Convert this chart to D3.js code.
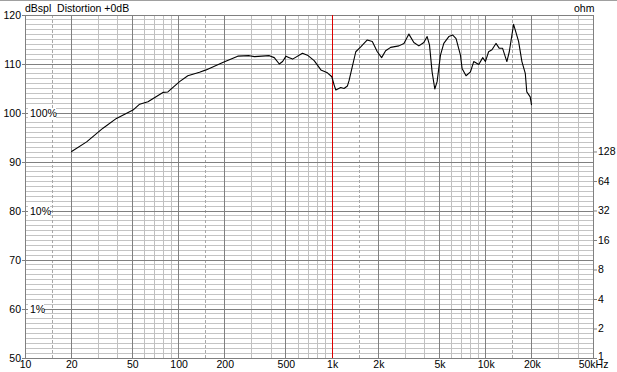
<!DOCTYPE html>
<html lang="en">
	<head>
		<meta charset="utf-8">
		<title>Frequency response</title>
		<script type="text/javascript" src="https://cdn.jsdelivr.net/npm/d3@7/dist/d3.min.js"></script>
		<style type="text/css">
			body {
				margin: 0;
				background: white;
				}
			text {
				font-family: "Liberation Sans", Arial, sans-serif;
				font-size: 10.5px;
				fill: #000;
				}
		</style>
	</head>
	<body>
		<script type="text/javascript">

			//Width and height
			var w = 617;
			var h = 372;

			// frequency response (Hz, dB SPL)
			var freqs = [20, 25.2, 32.2, 39.4, 50.5, 55.8, 63.2, 79.1, 85.2, 101.5, 114.9, 136.9,
				151, 194, 243, 289, 312, 390, 420, 453, 476, 501, 526, 553, 641, 691, 764, 845, 932,
				996, 1031, 1057, 1138, 1196, 1257, 1289, 1426, 1536, 1695, 1827, 1969, 2101, 2231,
				2405, 2722, 2936, 3162, 3407, 3672, 3956, 4157, 4306, 4478, 4664, 4828, 5077, 5337,
				5754, 6108, 6416, 6851, 7020, 7450, 7960, 8360, 8790, 9014, 9570, 9955, 10450, 10990,
				11670, 12270, 12890, 13740, 14250, 15200, 16380, 17220, 18110, 18530, 19500, 19900];
			var spl = [92.1, 94.1, 96.9, 98.9, 100.6, 101.8, 102.3, 104.2, 104.3, 106.4, 107.6, 108.3,
				108.8, 110.3, 111.6, 111.7, 111.5, 111.7, 111.3, 110.0, 110.5, 111.6, 111.3, 111.0, 112.2, 111.8, 110.7, 108.8, 108.2,
				107.4, 105.7, 104.7, 105.2, 105.0, 105.5, 106.6, 112.5, 113.5, 114.9, 114.6, 112.5, 111.3, 112.7,
				113.4, 113.7, 114.2, 116.1, 114.4, 113.7, 114.4, 115.6, 113.9, 108.4, 104.9, 106.4, 111.8, 114.2,
				115.6, 115.9, 115.2, 111.8, 109.1, 107.6, 108.4, 110.5, 110.1, 109.9, 111.3, 110.5, 112.5, 112.9,
				114.2, 113.2, 113.2, 110.5, 112.5, 118.1, 114.6, 110.5, 108.1, 104.3, 103.3, 101.6];

			// axis ticks
			var freqTicks = [10, 20, 50, 100, 200, 500, 1000, 2000, 5000, 10000, 20000, 50000];
			var freqLabels = ["10", "20", "50", "100", "200", "500", "1k", "2k", "5k", "10k", "20k", "50kHz"];
			var dbTicks = [50, 60, 70, 80, 90, 100, 110, 120];
			var ohmTicks = [1, 2, 4, 8, 16, 32, 64, 128];
			var distLabels = ["100%", "10%", "1%"];
			var distDb = [100, 80, 60];

			// plot area (plotTop, not top: window.top is read only)
			var plotLeft = 25, plotRight = 593, plotTop = 15, plotBottom = 358;

			var xScale = d3.scaleLog()
					.domain([10, 50000])
					.range([plotLeft, plotRight]);

			var yScale = d3.scaleLinear()
					.domain([50, 120])
					.range([plotBottom, plotTop]);

			var ohmScale = d3.scaleLog()
					.domain([1, Math.pow(10, 3.5)])
					.range([plotBottom, plotTop]);

			var svg = d3.select("body")
						.append("svg")
						.attr("width", w)
						.attr("height", h)
						.style("display", "block");

			// window top border
			svg.append("line")
				.attr("x1", 0).attr("x2", w)
				.attr("y1", 0.5).attr("y2", 0.5)
				.attr("stroke", "#a0a0a0");

			var grid = svg.append("g").attr("shape-rendering", "crispEdges");

			// minor horizontal lines every dB
			grid.selectAll("line.hminor")
				.data(d3.range(50, 121, 1).filter(function(d){ return d % 10 != 0; }))
				.enter()
				.append("line")
				.attr("x1", plotLeft).attr("x2", plotRight)
				.attr("y1", function(d){ return yScale(d); })
				.attr("y2", function(d){ return yScale(d); })
				.attr("stroke", "#c4c4c4");

			// minor vertical lines (3,4,6,7,8,9 x decade) and dashed 1.5 x decade
			var minorF = [], dashF = [];
			[10, 100, 1000, 10000].forEach(function(dec){
				[3, 4, 6, 7, 8, 9].forEach(function(m){
					if (m * dec <= 50000) minorF.push(m * dec);
					});
				dashF.push(1.5 * dec);
				});

			grid.selectAll("line.vminor")
				.data(minorF)
				.enter()
				.append("line")
				.attr("x1", function(d){ return xScale(d); })
				.attr("x2", function(d){ return xScale(d); })
				.attr("y1", plotTop).attr("y2", plotBottom)
				.attr("stroke", "#c0c0c0");

			grid.selectAll("line.vdash")
				.data(dashF)
				.enter()
				.append("line")
				.attr("x1", function(d){ return xScale(d); })
				.attr("x2", function(d){ return xScale(d); })
				.attr("y1", plotTop).attr("y2", plotBottom)
				.attr("stroke", "#a8a8a8")
				.attr("stroke-dasharray", "3,2");

			// major lines
			grid.selectAll("line.hmajor")
				.data(dbTicks)
				.enter()
				.append("line")
				.attr("x1", plotLeft).attr("x2", plotRight)
				.attr("y1", function(d){ return yScale(d); })
				.attr("y2", function(d){ return yScale(d); })
				.attr("stroke", "#808080");

			grid.selectAll("line.vmajor")
				.data(freqTicks)
				.enter()
				.append("line")
				.attr("x1", function(d){ return xScale(d); })
				.attr("x2", function(d){ return xScale(d); })
				.attr("y1", plotTop).attr("y2", plotBottom)
				.attr("stroke", "#808080");

			// 1 kHz marker
			grid.append("line")
				.attr("x1", xScale(1000)).attr("x2", xScale(1000))
				.attr("y1", plotTop).attr("y2", plotBottom)
				.attr("stroke", "#e00000");

			// distortion labels with white background
			var dist = svg.selectAll("g.dist")
				.data(distLabels)
				.enter()
				.append("g")
				.attr("transform", function(d, i){ return "translate(28," + yScale(distDb[i]) + ")"; });

			dist.append("rect")
				.attr("x", 0).attr("y", -5)
				.attr("width", function(d){ return d.length * 6 + 4; })
				.attr("height", 10)
				.attr("fill", "white");

			dist.append("text")
				.attr("x", 2)
				.attr("dy", "0.35em")
				.text(function(d){ return d; });

			// response curve
			var line = d3.line()
				.x(function(d){ return xScale(d); })
				.y(function(d, i){ return yScale(spl[i]); });

			svg.append("path")
				.datum(freqs)
				.attr("d", line)
				.attr("fill", "none")
				.attr("stroke", "black")
				.attr("stroke-width", 1.1)
				.attr("stroke-linejoin", "round");

			// axes
			var xAxis = d3.axisBottom(xScale)
					.tickValues(freqTicks)
					.tickSize(0)
					.tickPadding(3)
					.tickFormat(function(d, i){ return freqLabels[i]; });

			var yAxis = d3.axisLeft(yScale)
					.tickValues(dbTicks)
					.tickSize(3)
					.tickPadding(1);

			var ohmAxis = d3.axisRight(ohmScale)
					.tickValues(ohmTicks)
					.tickSize(4)
					.tickPadding(1)
					.tickFormat(d3.format("d"));

			svg.append("g")
				.attr("transform", "translate(0," + plotBottom + ")")
				.call(xAxis)
				.call(function(g){ g.select(".domain").remove(); })
				.selectAll("text")
				.style("font-size", "10.5px")
				.style("font-family", "Liberation Sans, Arial, sans-serif");

			svg.append("g")
				.attr("transform", "translate(" + plotLeft + ",0)")
				.call(yAxis)
				.call(function(g){ g.select(".domain").remove(); })
				.call(function(g){ g.selectAll("line").attr("stroke", "#808080"); })
				.selectAll("text")
				.style("font-size", "10.5px")
				.style("font-family", "Liberation Sans, Arial, sans-serif");

			svg.append("g")
				.attr("transform", "translate(" + plotRight + ",0)")
				.call(ohmAxis)
				.call(function(g){ g.select(".domain").remove(); })
				.call(function(g){ g.selectAll("line").attr("stroke", "#808080"); })
				.selectAll("text")
				.attr("dy", function(d){ return d == 1 ? "0.1em" : "0.32em"; })
				.style("font-size", "10.5px")
				.style("font-family", "Liberation Sans, Arial, sans-serif");

			// headers
			svg.append("text")
				.attr("x", 25).attr("y", 12)
				.attr("xml:space", "preserve")
				.text("dBspl  Distortion +0dB");

			svg.append("text")
				.attr("x", 574).attr("y", 12)
				.text("ohm");

		</script>
	</body>
</html>
